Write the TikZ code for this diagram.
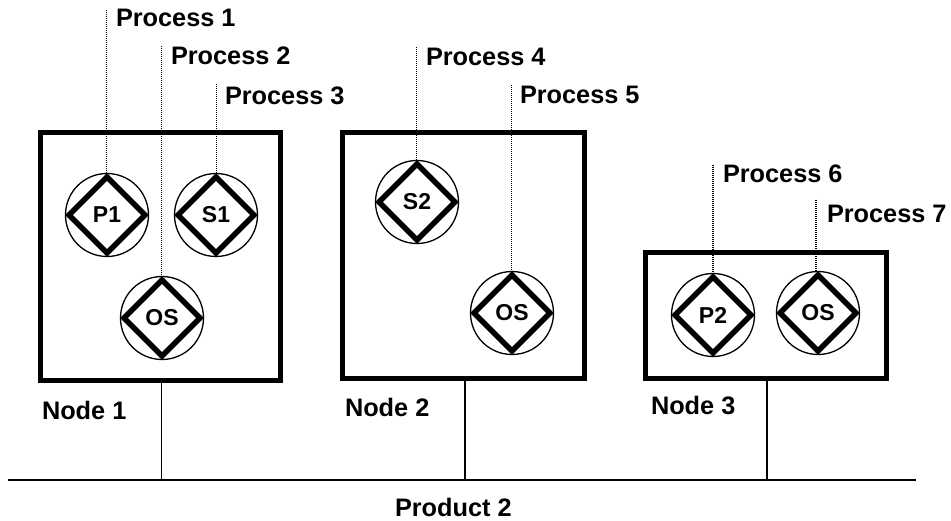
\documentclass[tikz,border=0pt]{standalone}
\usepackage{fontspec}
\setmainfont{Liberation Sans}
\usetikzlibrary{shapes.geometric}
\tikzset{
  x=1pt,y=-1pt,
  hostbox/.style={draw,line width=5.6pt,rectangle,inner sep=0,outer sep=0,anchor=north west},
  ring/.style={draw,circle,line width=1.3pt,minimum size=83pt,inner sep=0,outer sep=0},
  gem/.style={draw,diamond,aspect=1,line width=5.6pt,minimum width=76pt,minimum height=76pt,inner sep=0,outer sep=0,
    font=\bfseries\fontsize{23}{26}\selectfont,miter limit=10},
  lab/.style={anchor=base west,inner sep=0,outer sep=0,font=\bfseries\fontsize{25.3}{30}\selectfont},
  probe/.style={line width=1.3pt,dash pattern=on 1.2pt off 0.8pt},
  wire/.style={line width=1.3pt}
}
\begin{document}
\begin{tikzpicture}
\useasboundingbox (0,0) rectangle (951,521);
\node[hostbox,minimum width=240pt,minimum height=248pt] (n1) at (40.5,132.5) {};
\node[hostbox,minimum width=242pt,minimum height=246pt] (n2) at (342.5,132.5) {};
\node[hostbox,minimum width=241pt,minimum height=126pt] (n3) at (645.5,252.5) {};
\foreach \n/\x/\y/\t in {a/107/215/P1,b/216/215/S1,c/162/318/OS,d/417/202/S2,e/512/313/OS,f/713/315/P2,g/818/313/OS}{
  \node[ring] (c\n) at (\x,\y) {};
  \node[gem] (d\n) at (\x,\y) {\t};
}
\coordinate (t1) at (106.5,10);
\coordinate (t2) at (161.5,46);
\coordinate (t3) at (216.5,84);
\coordinate (t4) at (416.5,47);
\coordinate (t5) at (511.5,85);
\coordinate (t6) at (713,165);
\coordinate (t7) at (816,200);
\draw[probe] (t1) -- (t1 |- ca.north);
\draw[probe] (t2) -- (t2 |- cc.north);
\draw[probe] (t3) -- (t3 |- cb.north);
\draw[probe] (t4) -- (t4 |- cd.north);
\draw[probe] (t5) -- (t5 |- ce.north);
\draw[probe] (t6) -- (t6 |- cf.north);
\draw[probe] (t7) -- (t7 |- cg.north);
\node[lab] (p1) at (116,27) {Process 1};
\node[lab] (p2) at (171,65) {Process 2};
\node[lab] (p3) at (225,105) {Process 3};
\node[lab] (p4) at (426,66) {Process 4};
\node[lab] (p5) at (520,104) {Process 5};
\node[lab] (p6) at (723,183) {Process 6};
\node[lab] (p7) at (827,223) {Process 7};
\node[lab] (l1) at (42,419) {Node 1};
\node[lab] (l2) at (345,417) {Node 2};
\node[lab] (l3) at (651,414) {Node 3};
\node[lab] (pr) at (395,516) {Product 2};
\coordinate (busL) at (8,480);
\coordinate (busR) at (916,480);
\coordinate (s1) at (161.5,381);
\coordinate (s2) at (465,379);
\coordinate (s3) at (767,379);
\draw[wire] (busL) -- (busR);
\draw[wire] (s1 |- n1.south) -- (s1 |- busL);
\draw[wire] (s2 |- n2.south) -- (s2 |- busL);
\draw[wire] (s3 |- n3.south) -- (s3 |- busL);
\end{tikzpicture}
\end{document}
